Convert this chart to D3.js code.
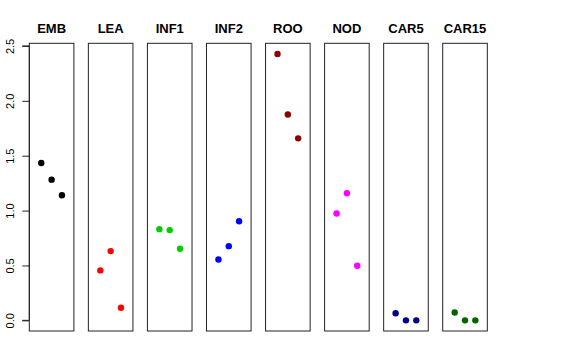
<!DOCTYPE html>
<html><head><meta charset="utf-8">
<script src="https://cdn.jsdelivr.net/npm/d3@7"></script>
<style>body{margin:0;background:#fff}svg{display:block}</style>
</head><body>
<svg id="c" width="576" height="360"></svg>
<script>
const categories = ["EMB","LEA","INF1","INF2","ROO","NOD","CAR5","CAR15"];
const colors = ["#000000","#FF0000","#00CD00","#0000FF","#8B0000","#FF00FF","#00008B","#006400"];
const values = [
  [1.434, 1.282, 1.140],
  [0.455, 0.631, 0.115],
  [0.831, 0.822, 0.652],
  [0.555, 0.676, 0.903],
  [2.427, 1.876, 1.658],
  [0.973, 1.158, 0.497],
  [0.065, 0.0, 0.0],
  [0.072, 0.0, 0.0]
];
const yTicks = [0, 0.5, 1.0, 1.5, 2.0, 2.5];

(function(){
const svg = d3.select("#c");
const plotTop = 43.3, plotBottom = 331;
const panelLeft0 = 29.3, panelStep = 59.06, panelW = 44.6;

const ymin = 0, ymax = d3.max(values.flat());
const pad = (ymax - ymin) * 0.04;
const y = d3.scaleLinear().domain([ymin - pad, ymax + pad]).range([plotBottom, plotTop]);

categories.forEach((cat, i) => {
  const x0 = panelLeft0 + i * panelStep;
  const x = d3.scaleLinear().domain([0 - 0.16, 4 + 0.16]).range([x0, x0 + panelW]);
  const g = svg.append("g");
  g.append("rect").attr("x", x0).attr("y", plotTop).attr("width", panelW).attr("height", plotBottom - plotTop)
    .attr("fill", "none").attr("stroke", "#222").attr("stroke-width", 1);
  g.selectAll("circle").data(values[i]).join("circle")
    .attr("cx", (d, j) => x(j + 1)).attr("cy", d => y(d)).attr("r", 3.2)
    .attr("fill", colors[i]);
  g.append("text").attr("x", x0 + panelW / 2).attr("y", 33)
    .attr("text-anchor", "middle").attr("font-family", "Liberation Sans, Arial, sans-serif")
    .attr("font-weight", "bold").attr("font-size", 13).text(cat);
});

const axis = d3.axisLeft(y).tickValues(yTicks).tickFormat(d3.format(".1f")).tickSize(7).tickPadding(4);
const ag = svg.append("g").attr("transform", `translate(${panelLeft0},0)`).call(axis);
ag.select(".domain").attr("d", `M-7,${y(0)}H0V${y(2.5)}H-7`).attr("stroke", "#222");
ag.selectAll(".tick line").attr("stroke", "#222");
ag.selectAll(".tick text")
  .attr("font-family", "Liberation Sans, Arial, sans-serif").attr("font-size", 11).attr("fill", "#000")
  .attr("text-anchor", "middle")
  .attr("transform", `translate(-19,0) rotate(-90)`)
  .attr("x", 0).attr("dy", "0.35em");
})();
</script>
</body></html>
